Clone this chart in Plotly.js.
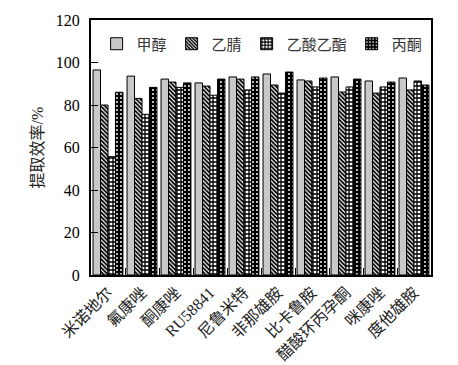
<!DOCTYPE html>
<html>
<head>
<meta charset="utf-8">
<script src="https://cdn.plot.ly/plotly-3.0.1.min.js"></script>
<style>html,body{margin:0;padding:0;background:#fff;}#chart{width:458px;height:365px;}</style>
</head>
<body>
<div id="chart"></div>
<script>
var categories = ["米诺地尔", "氟康唑", "酮康唑", "RU58841", "尼鲁米特", "非那雄胺", "比卡鲁胺", "醋酸环丙孕酮", "咪康唑", "度他雄胺"];
var seriesNames = ["甲醇", "乙腈", "乙酸乙酯", "丙酮"];
var methanol = [96.5, 93.6, 92.2, 90.4, 93.2, 94.6, 91.8, 93.2, 91.3, 92.7];
var acetonitrile = [80.0, 83.1, 90.8, 88.9, 92.2, 89.4, 91.3, 86.1, 85.6, 87.1];
var ethylAcetate = [55.7, 75.6, 88.3, 84.6, 87.1, 85.6, 88.5, 88.5, 88.5, 91.3];
var acetone = [86.0, 88.3, 90.4, 92.2, 93.2, 95.5, 92.7, 92.2, 90.8, 89.4];
var yTicks = [0, 20, 40, 60, 80, 100, 120];

var FONT = "Liberation Serif, 'Noto Sans CJK SC', serif";
var line = {color: "black", width: 1};
var traces = [
  {name: seriesNames[0], y: methanol, marker: {color: "#c8c8c8", line: line}},
  {name: seriesNames[1], y: acetonitrile, marker: {color: "white", line: line,
     pattern: {shape: "\\", size: 3, solidity: 0.6, fgcolor: "black", bgcolor: "white"}}},
  {name: seriesNames[2], y: ethylAcetate, marker: {color: "white", line: line,
     pattern: {shape: "+", size: 4, solidity: 0.55, fgcolor: "black", bgcolor: "white"}}},
  {name: seriesNames[3], y: acetone, marker: {color: "black", line: line,
     pattern: {shape: ".", size: 4, solidity: 0.18, fgcolor: "white", bgcolor: "black"}}}
].map(function (t) {
  t.type = "bar"; t.x = categories; t.hoverinfo = "none";
  return t;
});

var layout = {
  width: 458, height: 365,
  margin: {l: 91, r: 27, t: 20, b: 90},
  paper_bgcolor: "white", plot_bgcolor: "white",
  barmode: "group", bargap: 0.12, bargroupgap: 0,
  font: {family: FONT, size: 16, color: "black"},
  showlegend: true,
  legend: {orientation: "h", x: 0.99, xanchor: "right", y: 0.906, yanchor: "middle",
           font: {family: FONT, size: 15, color: "#333"}, bgcolor: "rgba(0,0,0,0)", traceorder: "normal"},
  xaxis: {type: "category", showline: true, mirror: true, linecolor: "black", linewidth: 2,
          ticks: "inside", tickson: "boundaries", ticklen: 7, tickcolor: "black", tickwidth: 1,
          tickangle: -45, tickfont: {family: FONT, size: 16, color: "#222"}, showgrid: false, zeroline: false},
  yaxis: {range: [0, 120], tickvals: yTicks, ticktext: yTicks.map(String), showline: true, mirror: true,
          linecolor: "black", linewidth: 2, ticks: "inside", ticklen: 7, tickcolor: "black", tickwidth: 1,
          ticklabelstandoff: 6,
          showgrid: false, zeroline: false, tickfont: {family: FONT, size: 16, color: "black"},
          title: {text: "提取效率/%", font: {family: FONT, size: 16, color: "#222"}, standoff: 8}}
};
Plotly.newPlot("chart", traces, layout, {staticPlot: true});
</script>
</body>
</html>
